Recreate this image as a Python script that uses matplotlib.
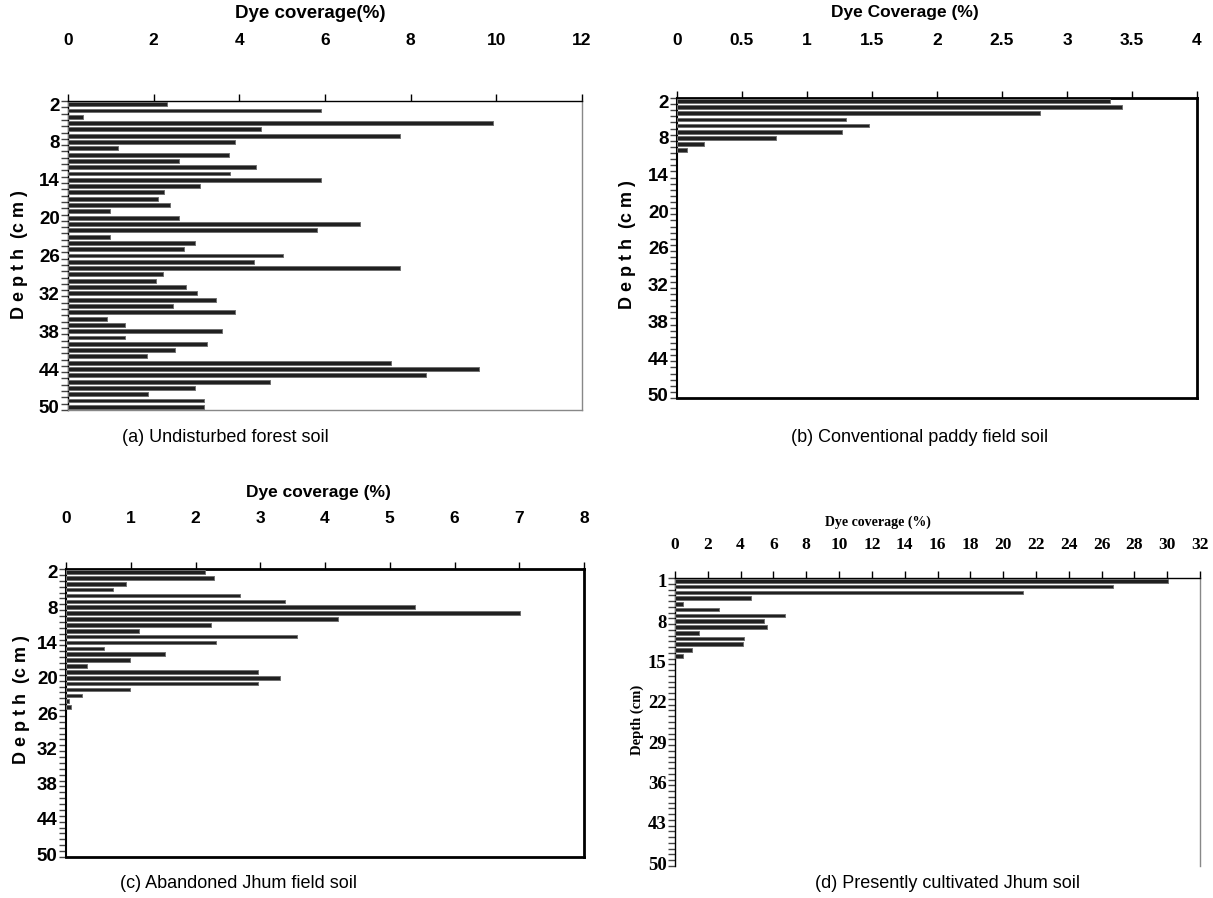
import matplotlib
matplotlib.use('Agg')
import matplotlib.pyplot as plt
from matplotlib import font_manager as fm
import numpy as np

names = {f.name for f in fm.fontManager.ttflist}
NARROW = 'Liberation Sans Narrow' if 'Liberation Sans Narrow' in names else 'Liberation Sans'
SANS = 'Liberation Sans'
SERIF = 'Liberation Serif'

# ---------------- data ----------------
depth_a = list(range(2, 51))
cov_a = [2.31, 5.91, 0.35, 9.93, 4.50, 7.76, 3.89, 1.17, 3.75, 2.58,
         4.39, 3.78, 5.91, 3.08, 2.25, 2.11, 2.37, 0.99, 2.60, 6.81,
         5.82, 0.97, 2.96, 2.70, 5.01, 4.34, 7.75, 2.22, 2.05, 2.75,
         3.02, 3.46, 2.46, 3.89, 0.91, 1.32, 3.60, 1.32, 3.25, 2.49,
         1.84, 7.55, 9.60, 8.35, 4.72, 2.96, 1.87, 3.17, 3.17]

depth_b = list(range(2, 11))
cov_b = [3.33, 3.42, 2.79, 1.30, 1.48, 1.27, 0.76, 0.21, 0.08]

depth_c = list(range(2, 26))
cov_c = [2.15, 2.28, 0.92, 0.73, 2.69, 3.38, 5.39, 7.01, 4.20, 2.24,
         1.13, 3.57, 2.31, 0.59, 1.53, 0.99, 0.32, 2.97, 3.30, 2.97,
         0.99, 0.25, 0.04, 0.07]

depth_d = list(range(1, 15))
cov_d = [30.05, 26.68, 21.19, 4.63, 0.46, 2.70, 6.69, 5.45, 5.63, 1.44,
         4.21, 4.12, 1.01, 0.46]

xticks_a = [0, 2, 4, 6, 8, 10, 12]
xticks_b = [0, 0.5, 1, 1.5, 2, 2.5, 3, 3.5, 4]
xticks_c = [0, 1, 2, 3, 4, 5, 6, 7, 8]
xticks_d = list(range(0, 33, 2))
yticks_abc = [2, 8, 14, 20, 26, 32, 38, 44, 50]
yticks_d = [1, 8, 15, 22, 29, 36, 43, 50]

titles = ['Dye coverage(%)', 'Dye Coverage (%)', 'Dye coverage (%)', 'Dye coverage (%)']
captions = ['(a) Undisturbed forest soil', '(b) Conventional paddy field soil',
            '(c) Abandoned Jhum field soil', '(d) Presently cultivated Jhum soil']

# ---------------- figure ----------------
W, H = 1213, 898
fig = plt.figure(figsize=(W / 100, H / 100), dpi=100)


def rect(l, t, r, b):
    return [l / W, 1 - b / H, (r - l) / W, (b - t) / H]


def fmt(v):
    return ('%g' % v)


def panel(r, depths, vals, xticks, yticks, ylim, font, tick_fs, ytick_fs,
          pad_top, spines, first_depth):
    ax = fig.add_axes(rect(*r))
    ax.barh(depths, vals, height=0.62, color='#202020', edgecolor='#707070',
            linewidth=0.7, zorder=3)
    ax.set_xlim(xticks[0], xticks[-1])
    ax.set_ylim(*ylim)
    ax.xaxis.tick_top()
    ax.set_xticks(xticks)
    ax.set_xticklabels([fmt(v) for v in xticks], fontfamily=font,
                       fontweight='bold', fontsize=tick_fs)
    ax.tick_params(axis='x', which='major', direction='out', length=5,
                   width=1, pad=pad_top, colors='black')
    ax.set_yticks(yticks)
    ax.set_yticklabels([str(v) for v in yticks], fontfamily=font,
                       fontweight='bold', fontsize=ytick_fs)
    ax.tick_params(axis='y', which='major', length=0, pad=6)
    ax.set_yticks(np.arange(first_depth - 0.5, 51, 1.0), minor=True)
    ax.tick_params(axis='y', which='minor', direction='out', length=5,
                   width=1, color='#444444')
    for side, (c, lw) in spines.items():
        ax.spines[side].set_color(c)
        ax.spines[side].set_linewidth(lw)
        if lw == 0:
            ax.spines[side].set_visible(False)
    return ax


panel((68, 101, 582, 410), depth_a, cov_a, xticks_a, yticks_abc, (50.5, 1.5),
      NARROW, 12.5, 13.5, 33,
      {'top': ('black', 1.0), 'left': ('black', 1.0),
       'right': ('#888888', 1.0), 'bottom': ('#888888', 1.0)}, 2)
panel((677, 98, 1197, 398), depth_b, cov_b, xticks_b, yticks_abc, (50.5, 1.5),
      NARROW, 12.5, 13.5, 31,
      {'top': ('black', 2.0), 'left': ('black', 1.5),
       'right': ('black', 2.0), 'bottom': ('black', 2.0)}, 2)
panel((66, 569, 584, 857), depth_c, cov_c, xticks_c, yticks_abc, (50.5, 1.5),
      NARROW, 12.5, 13.5, 26,
      {'top': ('black', 2.0), 'left': ('black', 1.5),
       'right': ('black', 2.0), 'bottom': ('black', 2.0)}, 2)
panel((675, 578, 1200, 866), depth_d, cov_d, xticks_d, yticks_d, (50.5, 0.5),
      SERIF, 12.5, 13.5, 13,
      {'top': ('black', 1.0), 'left': ('black', 1.0),
       'right': ('#888888', 1.0), 'bottom': ('#888888', 0)}, 1)

# titles (x-axis labels at top)
fig.text(310 / W, 1 - 14 / H, titles[0], ha='center', va='center',
         fontfamily=NARROW, fontweight='bold', fontsize=13.5)
fig.text(905 / W, 1 - 12 / H, titles[1], ha='center', va='center',
         fontfamily=NARROW, fontweight='bold', fontsize=12.5)
fig.text(318 / W, 1 - 493 / H, titles[2], ha='center', va='center',
         fontfamily=NARROW, fontweight='bold', fontsize=12.5)
fig.text(878 / W, 1 - 522 / H, titles[3], ha='center', va='center',
         fontfamily=SERIF, fontweight='bold', fontsize=10)

# y-axis labels
fig.text(20 / W, 1 - 255 / H, 'D e p t h  (c m )', rotation=90, ha='center',
         va='center', fontfamily=SANS, fontweight='bold', fontsize=13)
fig.text(628 / W, 1 - 245 / H, 'D e p t h  (c m )', rotation=90, ha='center',
         va='center', fontfamily=SANS, fontweight='bold', fontsize=13)
fig.text(22 / W, 1 - 700 / H, 'D e p t h  (c m )', rotation=90, ha='center',
         va='center', fontfamily=SANS, fontweight='bold', fontsize=13)
fig.text(637 / W, 1 - 720 / H, 'Depth (cm)', rotation=90, ha='center',
         va='center', fontfamily=SERIF, fontweight='bold', fontsize=10.5)

# captions
for (cx, cy), cap in zip([(225, 437), (920, 437), (238, 883), (948, 883)], captions):
    fig.text(cx / W, 1 - cy / H, cap, ha='center', va='center',
             fontfamily=SANS, fontsize=13)

fig.savefig('out.png', dpi=100)
